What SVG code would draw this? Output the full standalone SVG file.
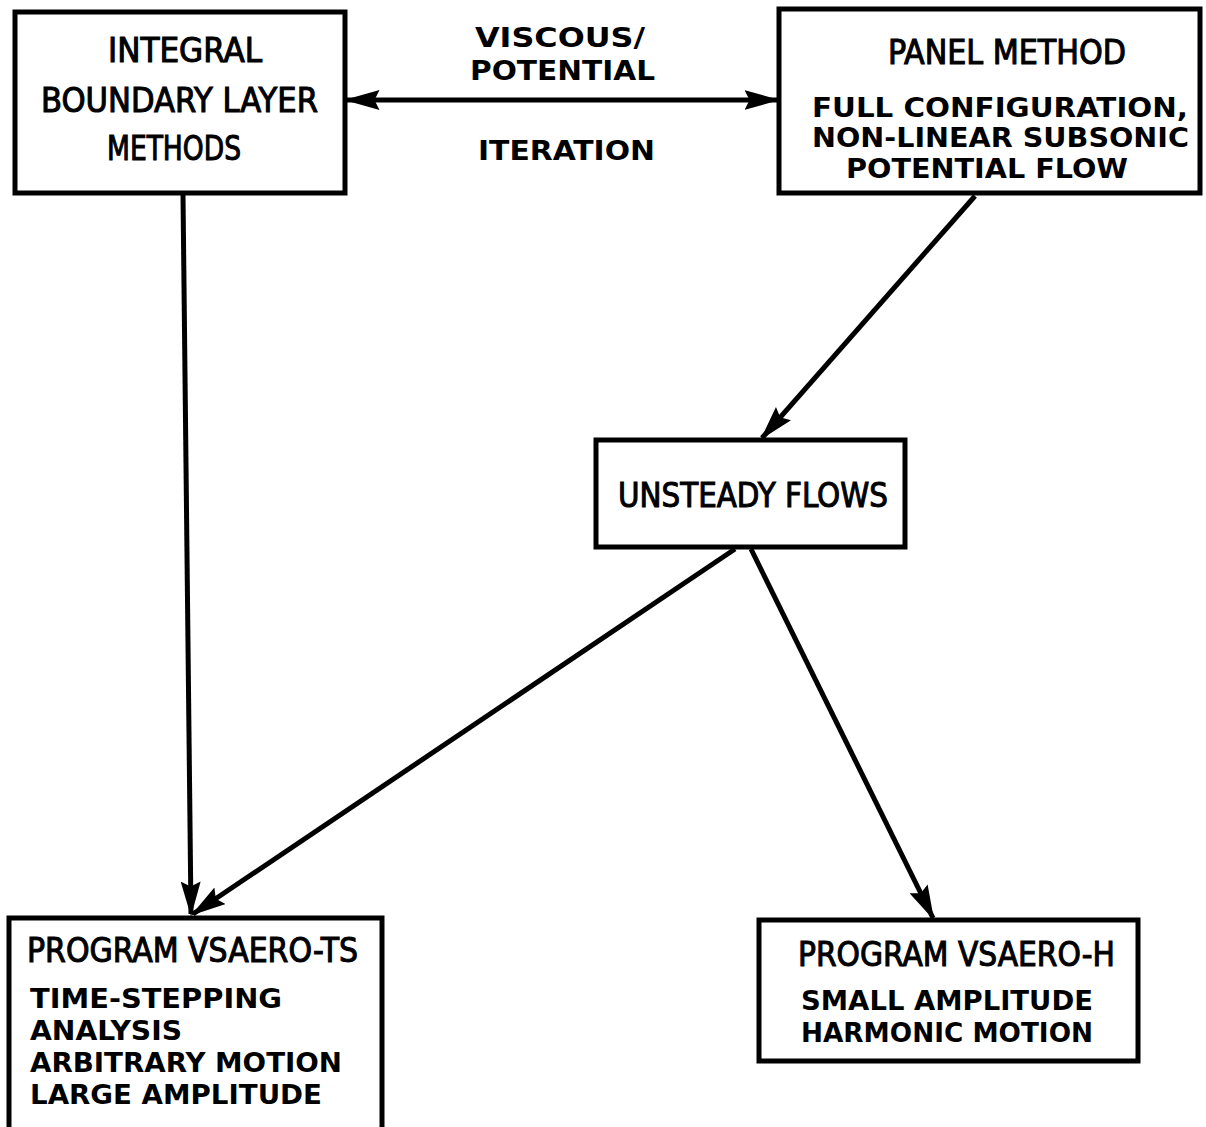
<svg xmlns="http://www.w3.org/2000/svg" width="1206" height="1127" viewBox="0 0 1206 1127">
<style>
.box{fill:#fff;stroke:#000;stroke-width:5}
.t{font-family:"DejaVu Sans Condensed","DejaVu Sans","Liberation Sans",sans-serif;fill:#000;text-anchor:start}
.h{font-size:33px;stroke:#000;stroke-width:1}
.b{font-size:26px;font-weight:bold}
.c{fill:none;stroke:#000;stroke-width:5}
</style>
<defs>
<marker id="ah" viewBox="0 0 14 8" refX="13" refY="4" markerWidth="7" markerHeight="4" orient="auto-start-reverse" markerUnits="strokeWidth">
<path d="M0,0 L14,4 L0,8 L2,4 Z" fill="#000"/>
</marker>
</defs>
<rect width="1206" height="1127" fill="#fff"/>
<g id="connectors">
<line class="c" x1="347" y1="100" x2="777" y2="100" marker-start="url(#ah)" marker-end="url(#ah)"/>
<line class="c" x1="183" y1="195" x2="191" y2="914" marker-end="url(#ah)"/>
<line class="c" x1="735" y1="549" x2="193" y2="914" marker-end="url(#ah)"/>
<line class="c" x1="975" y1="196" x2="762" y2="438" marker-end="url(#ah)"/>
<line class="c" x1="751" y1="549" x2="933" y2="918" marker-end="url(#ah)"/>
</g>
<g id="label-iteration">
<text class="t b" x="475" y="47" textLength="170" lengthAdjust="spacingAndGlyphs">VISCOUS/</text>
<text class="t b" x="470" y="80" textLength="185" lengthAdjust="spacingAndGlyphs">POTENTIAL</text>
<text class="t b" x="478" y="160" textLength="177" lengthAdjust="spacingAndGlyphs">ITERATION</text>
</g>
<g id="n-integral">
<rect class="box" x="15" y="12" width="330" height="181"/>
<text class="t h" x="108" y="62" textLength="154" lengthAdjust="spacingAndGlyphs">INTEGRAL</text>
<text class="t h" x="41" y="112" textLength="277" lengthAdjust="spacingAndGlyphs">BOUNDARY LAYER</text>
<text class="t h" x="107" y="160" textLength="134" lengthAdjust="spacingAndGlyphs">METHODS</text>
</g>
<g id="n-panel">
<rect class="box" x="779" y="9" width="421" height="184"/>
<text class="t h" x="888" y="64" textLength="238" lengthAdjust="spacingAndGlyphs">PANEL METHOD</text>
<text class="t b" x="812" y="117" textLength="376" lengthAdjust="spacingAndGlyphs">FULL CONFIGURATION,</text>
<text class="t b" x="812" y="147" textLength="377" lengthAdjust="spacingAndGlyphs">NON-LINEAR SUBSONIC</text>
<text class="t b" x="846" y="178" textLength="282" lengthAdjust="spacingAndGlyphs">POTENTIAL FLOW</text>
</g>
<g id="n-unsteady">
<rect class="box" x="596" y="440" width="309" height="107"/>
<text class="t h" x="618" y="507" textLength="270" lengthAdjust="spacingAndGlyphs">UNSTEADY FLOWS</text>
</g>
<g id="n-ts">
<rect class="box" x="9" y="918" width="373" height="215"/>
<text class="t h" x="27" y="962" textLength="331" lengthAdjust="spacingAndGlyphs">PROGRAM VSAERO-TS</text>
<text class="t b" x="30" y="1008" textLength="252" lengthAdjust="spacingAndGlyphs">TIME-STEPPING</text>
<text class="t b" x="30" y="1040" textLength="152" lengthAdjust="spacingAndGlyphs">ANALYSIS</text>
<text class="t b" x="30" y="1072" textLength="312" lengthAdjust="spacingAndGlyphs">ARBITRARY MOTION</text>
<text class="t b" x="30" y="1104" textLength="292" lengthAdjust="spacingAndGlyphs">LARGE AMPLITUDE</text>
</g>
<g id="n-h">
<rect class="box" x="759" y="920" width="379" height="141"/>
<text class="t h" x="798" y="966" textLength="317" lengthAdjust="spacingAndGlyphs">PROGRAM VSAERO-H</text>
<text class="t b" x="801" y="1010" textLength="292" lengthAdjust="spacingAndGlyphs">SMALL AMPLITUDE</text>
<text class="t b" x="801" y="1042" textLength="292" lengthAdjust="spacingAndGlyphs">HARMONIC MOTION</text>
</g>
</svg>
